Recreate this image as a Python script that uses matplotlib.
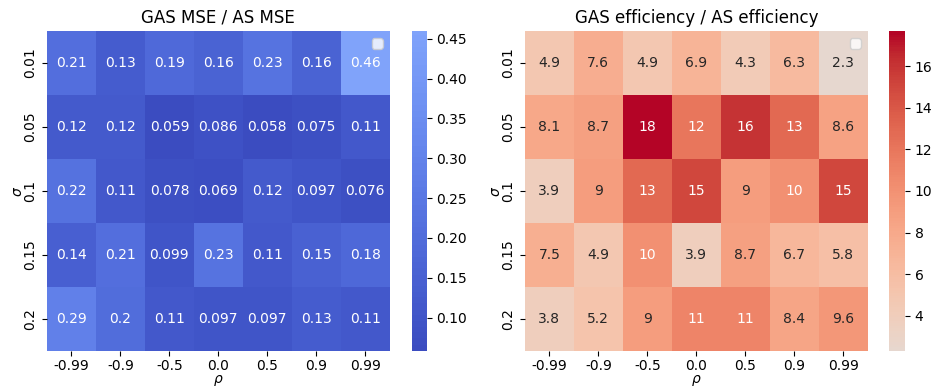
import matplotlib
matplotlib.use("Agg")
import matplotlib.pyplot as plt
import seaborn as sns
import pandas as pd

rhos = [-0.99, -0.9, -0.5, 0.0, 0.5, 0.9, 0.99]
sigmas = [0.01, 0.05, 0.1, 0.15, 0.2]

# GAS MSE / AS MSE
mse_ratio = [
    [0.21, 0.13, 0.19, 0.16, 0.23, 0.16, 0.46],
    [0.12, 0.12, 0.059, 0.086, 0.058, 0.075, 0.11],
    [0.22, 0.11, 0.078, 0.069, 0.12, 0.097, 0.076],
    [0.14, 0.21, 0.099, 0.23, 0.11, 0.15, 0.18],
    [0.29, 0.2, 0.11, 0.097, 0.097, 0.13, 0.11],
]

# GAS efficiency / AS efficiency
eff_ratio = [
    [4.9, 7.6, 4.9, 6.9, 4.3, 6.3, 2.3],
    [8.1, 8.7, 17.7, 12, 16, 13, 8.6],
    [3.9, 9, 13, 15, 9, 10, 15],
    [7.5, 4.9, 10, 3.9, 8.7, 6.7, 5.8],
    [3.8, 5.2, 9, 11, 11, 8.4, 9.6],
]

df_mse = pd.DataFrame(mse_ratio, index=sigmas, columns=rhos)
df_eff = pd.DataFrame(eff_ratio, index=sigmas, columns=rhos)

fig = plt.figure(figsize=(9.34, 3.88), dpi=100)
ax1 = fig.add_axes([0.0503, 0.0954, 0.367, 0.825])
cax1 = fig.add_axes([0.441, 0.0954, 0.016, 0.825])
ax2 = fig.add_axes([0.562, 0.0954, 0.367, 0.825])
cax2 = fig.add_axes([0.952, 0.0954, 0.017, 0.825])

sns.heatmap(df_mse, ax=ax1, cbar_ax=cax1, annot=True, cmap="coolwarm", center=1)
ax1.set_title("GAS MSE / AS MSE")
ax1.set_xlabel(r"$\rho$", labelpad=0)
ax1.set_ylabel(r"$\sigma$", labelpad=-1)
ax1.tick_params(axis="x", pad=2)
ax1.legend()

sns.heatmap(df_eff, ax=ax2, cbar_ax=cax2, annot=True, cmap="coolwarm", center=1)
ax2.set_title("GAS efficiency / AS efficiency")
ax2.set_xlabel(r"$\rho$", labelpad=0)
ax2.set_ylabel(r"$\sigma$", labelpad=-1)
ax2.tick_params(axis="x", pad=2)
ax2.legend()

fig.savefig("out.png", dpi=100)
